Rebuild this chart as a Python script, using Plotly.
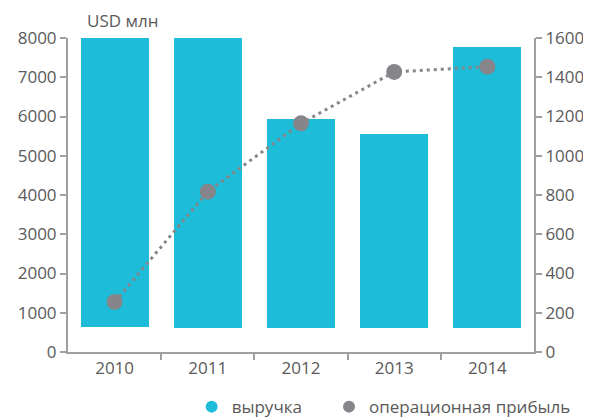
import plotly.graph_objects as go

years = ["2010", "2011", "2012", "2013", "2014"]
revenue_base = [640, 620, 620, 620, 620]
revenue_top = [8000, 8000, 5940, 5550, 7780]
op_profit = [255, 817, 1165, 1427, 1454]

x_pos = list(range(len(years)))
bar_heights = [t - b for t, b in zip(revenue_top, revenue_base)]

BAR = "#1DBCD8"
GRAY = "#85858A"
AXIS = "#A0A0A0"
TXT = "#5A5A5A"
FONT = "Open Sans, Segoe UI, sans-serif"
FS = 17

fig = go.Figure()
fig.add_trace(go.Bar(x=x_pos, y=bar_heights, base=revenue_base, width=0.73,
                     marker=dict(color=BAR, line=dict(width=0)), showlegend=False,
                     name="выручка"))
fig.add_trace(go.Scatter(x=x_pos, y=op_profit, yaxis="y2", mode="lines+markers",
                         line=dict(color=GRAY, width=3, dash="3px,4px"),
                         marker=dict(color=GRAY, size=16), showlegend=False,
                         name="операционная прибыль"))
# legend entries
fig.add_trace(go.Scatter(x=[None], y=[None], mode="markers", name="выручка" + "\u00a0" * 5,
                         marker=dict(color=BAR, size=15, symbol="circle")))
fig.add_trace(go.Scatter(x=[None], y=[None], mode="markers", name="операционная прибыль",
                         marker=dict(color=GRAY, size=15, symbol="circle")))

fig.update_layout(
    width=583, height=411,
    margin=dict(l=60, r=57, t=30, b=67, autoexpand=False),
    plot_bgcolor="white", paper_bgcolor="white",
    font=dict(family=FONT, size=FS, color=TXT),
    bargap=0,
    xaxis=dict(
        range=[-0.5, 4.5], tickvals=x_pos, ticktext=years, ticks="",
        showgrid=False, zeroline=False, automargin=False,
        showline=True, linecolor=AXIS, linewidth=2,
        tickfont=dict(size=FS, color=TXT),
        minor=dict(tickvals=[0.5, 1.5, 2.5, 3.5], ticks="outside", ticklen=6,
                   tickcolor=AXIS, tickwidth=2, showgrid=False),
    ),
    yaxis=dict(
        range=[0, 8000], tickvals=list(range(0, 8001, 1000)),
        showgrid=False, zeroline=False, automargin=False,
        showline=True, linecolor=AXIS, linewidth=2,
        ticks="outside", ticklen=6, tickcolor=AXIS, tickwidth=2,
        tickfont=dict(size=FS, color=TXT),
    ),
    yaxis2=dict(
        range=[0, 1600], tickvals=list(range(0, 1601, 200)),
        overlaying="y", side="right",
        showgrid=False, zeroline=False, automargin=False,
        showline=True, linecolor=AXIS, linewidth=2,
        ticks="outside", ticklen=6, tickcolor=AXIS, tickwidth=2,
        tickfont=dict(size=FS, color=TXT),
    ),
    legend=dict(orientation="h", x=0.315, xanchor="left", y=0.029, yanchor="middle",
                yref="container", xref="container",
                font=dict(size=FS, color=TXT), itemsizing="constant"),
    annotations=[dict(text="USD млн", xref="paper", yref="paper", x=0.036, y=1.057,
                      xanchor="left", yanchor="middle", showarrow=False,
                      font=dict(size=FS, color=TXT))],
)

fig.write_html("out.html")
